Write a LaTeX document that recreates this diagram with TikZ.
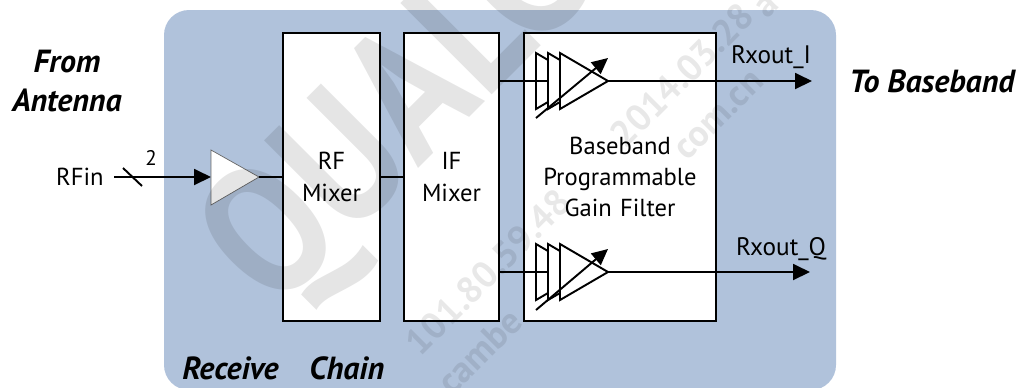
\documentclass[tikz,border=0pt]{standalone}
\usepackage{fontspec}
\setmainfont{PT Sans}
\usetikzlibrary{arrows.meta,positioning}
\definecolor{chainblue}{RGB}{176,194,219}
\tikzset{
    block/.style={draw,line width=1.1pt,fill=white,minimum height=5.76cm,text width=1.6cm,align=center,font=\fontsize{14}{17.6}\selectfont,inner sep=0pt},
    amp/.style={draw,line width=1.1pt,fill=white},
    sig/.style={line width=1.1pt,-{Triangle[length=3.4mm,width=3.2mm]}},
    gainsig/.style={line width=1.1pt,-{Triangle[length=3.2mm,width=3mm]}},
    wire/.style={line width=1.1pt},
    lbl/.style={font=\Large,inner sep=0pt},
    head/.style={font=\fontsize{18.2}{22}\selectfont\bfseries\itshape,align=center,inner sep=0pt},
    bigmark/.style={rotate=45,xscale=0.85,text=black,opacity=0.1,font=\fontsize{105}{105}\selectfont\bfseries,inner sep=0pt},
    smallmark/.style={rotate=45,text=black,opacity=0.09,font=\fontsize{21}{21}\selectfont\bfseries,inner sep=0pt}
}
\begin{document}
\begin{tikzpicture}[x=0.02cm,y=-0.02cm]
    \useasboundingbox (0,0) rectangle (1018,387);
    \clip (0,0) rectangle (1018,387);
    % background of the chain
    \fill[chainblue,rounded corners=0.5cm] (164,10) rectangle (836,390);
    % blocks
    \node[block,minimum width=1.94cm] (rfmix) at (331.5,177) {RF\\[1pt]Mixer};
    \node[block,minimum width=1.9cm] (ifmix) at (451.5,177) {IF\\[1pt]Mixer};
    \node[block,minimum width=3.84cm,text width=3.6cm] (bbfilt) at (620,177) {Baseband\\Programmable\\Gain Filter};
    \draw[wire] (rfmix.east |- 0,177) -- (ifmix.west |- 0,177);
    % input
    \node[lbl,font=\fontsize{14}{16}\selectfont,anchor=east] (rfin) at (104,177) {RFin};
    \coordinate (rfstart) at (114,177);
    \coordinate (ampin) at (211,177);
    \draw[sig] (rfstart) -- (ampin);
    \draw[wire] (123,168) -- (142,186);
    \node[lbl,font=\large] (two) at (151,158) {2};
    \draw[draw=black!60,fill=white] (211,150) -- (259,177) -- (211,205) -- cycle;
    \coordinate (ampout) at (259,177);
    \draw[wire] (ampout) -- (rfmix.west |- 0,177);
    % upper amplifier
    \coordinate (iin) at (ifmix.east |- 0,81);
    \coordinate (iout) at (812,81);
    \coordinate (itip) at (608,81);
    \draw[sig] (itip) -- (iout);
    \foreach \x in {536,548,560}
        \draw[amp] (\x,53) -- (\x+48,81) -- (\x,109) -- cycle;
    \draw[wire] (iin) -- (548,81);
    \draw[gainsig] (536,118) -- (608,58);
    \node[lbl] (rxi) at (771,57) {Rxout\_I};
    % lower amplifier
    \coordinate (qin) at (ifmix.east |- 0,272);
    \coordinate (qout) at (810,272);
    \coordinate (qtip) at (608,272);
    \draw[sig] (qtip) -- (qout);
    \foreach \x in {536,548,560}
        \draw[amp] (\x,244) -- (\x+48,272) -- (\x,300) -- cycle;
    \draw[wire] (qin) -- (548,272);
    \draw[gainsig] (536,310) -- (608,249);
    \node[lbl] (rxq) at (781,249) {Rxout\_Q};
    % headings
    \node[head] (ant) at (67,81) {From\\Antenna};
    \node[head] (base) at (932,81) {To Baseband};
    \node[head,anchor=west] (rx) at (182,368) {Receive};
    \node[head,anchor=west] (ch) at (309,368) {Chain};
    % watermark
    \node[bigmark] (mark) at (402,120) {QUALC};
    \node[smallmark] (markip) at (488,272) {101.80.59.48};
    \node[smallmark] (markdate) at (682,75) {2014.03.28};
    \node[smallmark] (markat) at (767,6) {a};
    \node[smallmark] (markmail) at (600,231) {cambe\hspace{4.6cm}com.cn};
\end{tikzpicture}
\end{document}
